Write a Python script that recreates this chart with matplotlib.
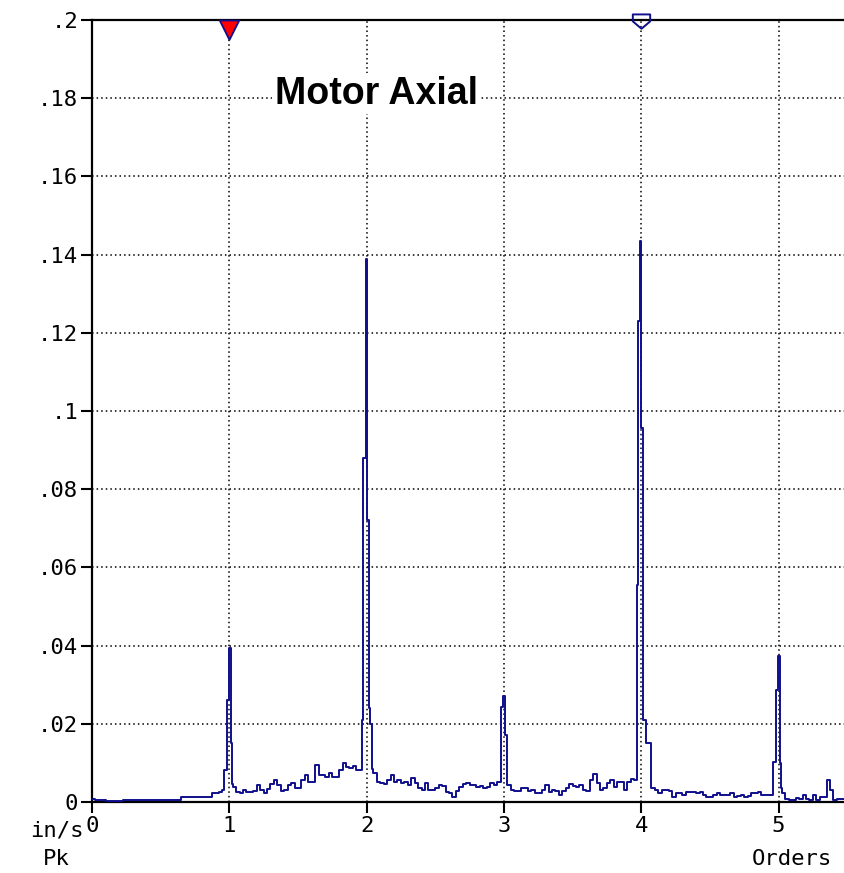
import numpy as np
import matplotlib.pyplot as plt
from matplotlib.path import Path

# Motor axial vibration spectrum, in/s Pk against running-speed orders
bin_width = 0.025

# noise floor read on a 0.025 order grid, one list per order interval
base_0 = [0.0008, 0.0006, 0.0004, 0.0004, 0.0003, 0.0002, 0.0003, 0.0003, 0.0002, 0.0004,
          0.0004, 0.0005, 0.0004, 0.0004, 0.0005, 0.0005, 0.0004, 0.0005, 0.0005, 0.0006,
          0.0005, 0.0005, 0.0006, 0.0006, 0.0006, 0.0006, 0.0013, 0.0013, 0.0013, 0.0013,
          0.0013, 0.0013, 0.0013, 0.0013, 0.0013, 0.0023, 0.0023, 0.0026, 0.0030, 0.0082]
base_1 = [0.0394, 0.0039, 0.0025, 0.0022, 0.0030, 0.0026, 0.0026, 0.0027, 0.0043, 0.0030,
          0.0023, 0.0033, 0.0045, 0.0056, 0.0043, 0.0028, 0.0030, 0.0043, 0.0048, 0.0037,
          0.0035, 0.0056, 0.0069, 0.0050, 0.0052, 0.0095, 0.0069, 0.0069, 0.0065, 0.0073,
          0.0065, 0.0063, 0.0082, 0.0099, 0.0090, 0.0087, 0.0093, 0.0082, 0.0082, 0.0210]
base_2 = [0.1390, 0.0200, 0.0075, 0.0050, 0.0048, 0.0045, 0.0056, 0.0069, 0.0050, 0.0055,
          0.0048, 0.0050, 0.0043, 0.0061, 0.0048, 0.0035, 0.0030, 0.0048, 0.0030, 0.0030,
          0.0035, 0.0043, 0.0040, 0.0026, 0.0022, 0.0013, 0.0028, 0.0039, 0.0045, 0.0048,
          0.0043, 0.0043, 0.0039, 0.0040, 0.0035, 0.0038, 0.0048, 0.0043, 0.0050, 0.0050]
base_3 = [0.0270, 0.0043, 0.0030, 0.0028, 0.0028, 0.0035, 0.0035, 0.0027, 0.0030, 0.0022,
          0.0022, 0.0030, 0.0043, 0.0026, 0.0030, 0.0027, 0.0018, 0.0027, 0.0035, 0.0045,
          0.0040, 0.0038, 0.0043, 0.0030, 0.0027, 0.0056, 0.0072, 0.0048, 0.0030, 0.0035,
          0.0048, 0.0056, 0.0039, 0.0050, 0.0050, 0.0030, 0.0050, 0.0060, 0.0056, 0.1230]
base_4 = [0.1430, 0.0150, 0.0150, 0.0035, 0.0030, 0.0022, 0.0030, 0.0030, 0.0028, 0.0014,
          0.0022, 0.0022, 0.0018, 0.0026, 0.0026, 0.0026, 0.0022, 0.0026, 0.0018, 0.0014,
          0.0014, 0.0018, 0.0022, 0.0018, 0.0018, 0.0018, 0.0022, 0.0014, 0.0016, 0.0018,
          0.0014, 0.0016, 0.0022, 0.0024, 0.0026, 0.0018, 0.0018, 0.0018, 0.0018, 0.0287]
base_5 = [0.0373, 0.0022, 0.0008, 0.0005, 0.0005, 0.0010, 0.0008, 0.0018, 0.0008, 0.0005,
          0.0018, 0.0005, 0.0014, 0.0014, 0.0056, 0.0030, 0.0005, 0.0008, 0.0008, 0.0008]

# finer shape of the harmonic peaks
peak1_orders = [0.960, 0.981, 0.998, 1.012, 1.021]
peak1_amps = [0.0082, 0.0260, 0.0394, 0.0150, 0.0045]
peak2_orders = [1.964, 1.977, 1.992, 2.003, 2.017, 2.028, 2.036]
peak2_amps = [0.0210, 0.0880, 0.1390, 0.0720, 0.0240, 0.0200, 0.0085]
peak3_orders = [2.979, 2.996, 3.008, 3.020]
peak3_amps = [0.0244, 0.0270, 0.0171, 0.0048]
peak4_orders = [3.969, 3.980, 3.991, 4.002, 4.013, 4.035, 4.072]
peak4_amps = [0.0555, 0.1230, 0.1435, 0.0957, 0.0210, 0.0150, 0.0035]
peak5_orders = [4.960, 4.985, 4.996, 5.008, 5.018]
peak5_amps = [0.0103, 0.0287, 0.0373, 0.0100, 0.0035]

cursor_orders = [1, 4]   # reference cursor (filled) and delta cursor (open)
x_ticks = [0, 1, 2, 3, 4, 5]
y_ticks = [0, 0.02, 0.04, 0.06, 0.08, 0.1, 0.12, 0.14, 0.16, 0.18, 0.2]
y_tick_labels = ['0', '.02', '.04', '.06', '.08', '.1', '.12', '.14', '.16', '.18', '.2']

# merge peaks into the grid
amp_base = np.array(base_0 + base_1 + base_2 + base_3 + base_4 + base_5)
orders_base = np.arange(len(amp_base)) * bin_width
peaks = [(peak1_orders, peak1_amps), (peak2_orders, peak2_amps), (peak3_orders, peak3_amps),
         (peak4_orders, peak4_amps), (peak5_orders, peak5_amps)]
keep = np.ones(len(orders_base), bool)
for po, pa in peaks:
    keep &= ~((orders_base >= po[0] - 1e-9) & (orders_base <= po[-1] + 1e-9))
orders = np.concatenate([orders_base[keep]] + [np.array(po) for po, pa in peaks])
amps = np.concatenate([amp_base[keep]] + [np.array(pa) for po, pa in peaks])
idx = np.argsort(orders)
orders, amps = orders[idx], amps[idx]

mono = 'DejaVu Sans Mono'
blue = '#0f0f8c'

fig = plt.figure(figsize=(8.44, 8.73), dpi=100)
ax = fig.add_axes([92 / 844, 71 / 873, 752 / 844, 782 / 873])

ax.plot(orders, amps, drawstyle='steps-post', color=blue, lw=1.4, zorder=3)

ax.set_xlim(0, 5.477)
ax.set_ylim(0, 0.2)
ax.set_xticks(x_ticks)
ax.set_xticklabels([str(t) for t in x_ticks], fontfamily=mono, fontsize=16)
ax.set_yticks(y_ticks)
ax.set_yticklabels(y_tick_labels, fontfamily=mono, fontsize=16)
ax.tick_params(length=8, width=1.5, pad=2, color='black')

ax.grid(True, color='black', linestyle=(0, (1, 2)), linewidth=1.1)
ax.spines['right'].set_visible(False)
for s in ['left', 'top', 'bottom']:
    ax.spines[s].set_linewidth(1.6)

# cursor markers hanging from the top edge
tri = Path([(-1, 0), (1, 0), (0, -2), (-1, 0)],
           [Path.MOVETO, Path.LINETO, Path.LINETO, Path.CLOSEPOLY])
shield = Path([(-1, 0.7), (1, 0.7), (1, -0.1), (0, -0.95), (-1, -0.1), (-1, 0.7)],
              [Path.MOVETO, Path.LINETO, Path.LINETO, Path.LINETO, Path.LINETO, Path.CLOSEPOLY])
xt = ax.get_xaxis_transform()
ax.plot([cursor_orders[0]], [1], transform=xt, marker=tri, ms=28, mfc='red',
        mec=blue, mew=1.3, ls='none', clip_on=False, zorder=5)
ax.plot([cursor_orders[1]], [1], transform=xt, marker=shield, ms=12.5, mfc='none',
        mec=blue, mew=1.4, ls='none', clip_on=False, zorder=5)

ax.text(0.2434, 0.8932, 'Motor Axial', transform=ax.transAxes, fontsize=27,
        fontweight='bold', fontfamily='Liberation Sans', ha='left', va='baseline',
        bbox=dict(facecolor='white', edgecolor='none', pad=2), zorder=4)

fig.text(84 / 844, 1 - 830 / 873, 'in/s', fontfamily=mono, fontsize=16, ha='right', va='center')
fig.text(56 / 844, 1 - 859 / 873, 'Pk', fontfamily=mono, fontsize=16, ha='center', va='center')
fig.text(832 / 844, 1 - 859 / 873, 'Orders', fontfamily=mono, fontsize=16, ha='right', va='center')

fig.savefig('out.png', dpi=100, facecolor='white')
